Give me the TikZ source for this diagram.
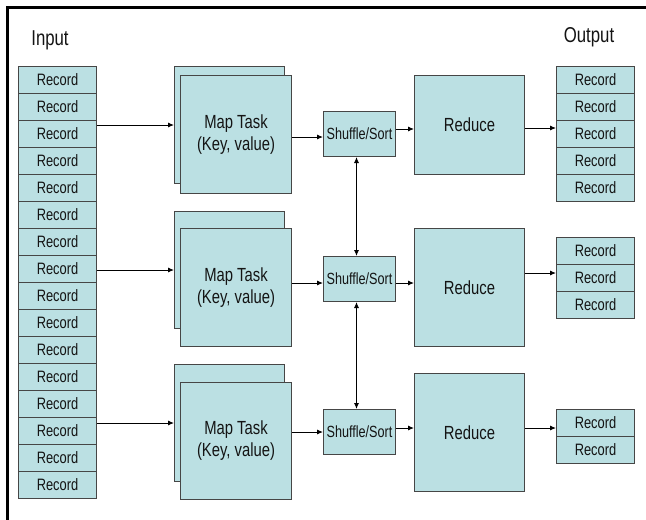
\documentclass[tikz,border=0pt]{standalone}
\usepackage{fontspec}
\setmainfont[FakeStretch=0.78]{Liberation Sans}
\usetikzlibrary{arrows.meta}
\definecolor{boxfill}{RGB}{187,224,227}
\definecolor{boxline}{RGB}{70,70,70}
\definecolor{ink}{RGB}{20,20,20}

\begin{document}
\begin{tikzpicture}[x=1pt,y=-1pt,
  box/.style={draw=boxline,line width=1pt,fill=boxfill,inner sep=0pt,anchor=north west,text=ink},
  rec/.style={box,minimum width=78pt,minimum height=27pt,font=\fontsize{16.5}{18}\selectfont},
  mapbox/.style={box,minimum width=111pt,align=center,font=\fontsize{19}{22}\selectfont},
  shufbox/.style={box,minimum width=72pt,minimum height=45pt,font=\fontsize{16.2}{18}\selectfont},
  redbox/.style={box,minimum width=110pt,font=\fontsize{19}{22}\selectfont},
  heading/.style={text=ink,inner sep=0pt,font=\fontsize{21.5}{24}\selectfont},
  arr/.style={-{Latex[length=6pt,width=5pt]},line width=0.9pt,draw=black},
  dblarr/.style={{Latex[length=6pt,width=5pt]}-{Latex[length=6pt,width=5pt]},line width=0.9pt,draw=black}
]
\useasboundingbox (0,0) rectangle (646,520);
\fill[white] (0,0) rectangle (646,520);

% frame on the left and top edges
\draw[line width=3pt,black] (7,520) -- (7,7) -- (646,7);

% headings
\node[heading] (inlabel) at (50,40) {Input};
\node[heading] (outlabel) at (589,37) {Output};

% input records
\foreach \i in {0,...,15}
  \node[rec] (in\i) at (18,{66+27*\i}) {Record};

% output records
\foreach \i in {0,...,4}
  \node[rec] (oa\i) at (556,{66+27*\i}) {Record};
\foreach \i in {0,...,2}
  \node[rec] (ob\i) at (556,{237+27*\i}) {Record};
\foreach \i in {0,...,1}
  \node[rec] (oc\i) at (556,{409+27*\i}) {Record};

% map task stacks
\node[box,minimum width=110pt,minimum height=117pt] (mapb1) at (174,66) {};
\node[mapbox,minimum height=118pt] (mapf1) at (180,75) {Map Task\\(Key, value)};
\node[box,minimum width=110pt,minimum height=117pt] (mapb2) at (174,211) {};
\node[mapbox,minimum height=118pt] (mapf2) at (180,228) {Map Task\\(Key, value)};
\node[box,minimum width=110pt,minimum height=117pt] (mapb3) at (174,364) {};
\node[mapbox,minimum height=117pt] (mapf3) at (180,382) {Map Task\\(Key, value)};

% shuffle/sort
\node[shufbox] (sh1) at (323,111) {Shuffle/Sort};
\node[shufbox] (sh2) at (323,256) {Shuffle/Sort};
\node[shufbox] (sh3) at (323,409) {Shuffle/Sort};

% reduce
\node[redbox,minimum height=99pt] (red1) at (414,75) {Reduce};
\node[redbox,minimum height=118pt] (red2) at (414,228) {Reduce};
\node[redbox,minimum height=118pt] (red3) at (414,373) {Reduce};

% input to map
\draw[arr] (in2.east |- mapb1.west) -- (mapb1.west);
\draw[arr] (in7.east |- mapb2.west) -- (mapb2.west);
\draw[arr] (in13.east |- mapb3.west) -- (mapb3.west);

% map to shuffle
\draw[arr] (mapf1.east |- 0,137) -- (sh1.west |- 0,137);
\draw[arr] (mapf2.east |- 0,283) -- (sh2.west |- 0,283);
\draw[arr] (mapf3.east |- 0,432) -- (sh3.west |- 0,432);

% shuffle to reduce
\draw[arr] (sh1.east |- 0,129) -- (red1.west |- 0,129);
\draw[arr] (sh2.east |- 0,283) -- (red2.west |- 0,283);
\draw[arr] (sh3.east |- 0,428) -- (red3.west |- 0,428);

% reduce to output
\draw[arr] (red1.east |- 0,128) -- (oa2.west |- 0,128);
\draw[arr] (red2.east |- 0,273) -- (ob1.west |- 0,273);
\draw[arr] (red3.east |- 0,428) -- (oc0.west |- 0,428);

% exchange between shuffle stages
\draw[dblarr] ([xshift=-3pt]sh1.south) -- ([xshift=-3pt]sh2.north);
\draw[dblarr] ([xshift=-3pt]sh2.south) -- ([xshift=-3pt]sh3.north);
\end{tikzpicture}
\end{document}
